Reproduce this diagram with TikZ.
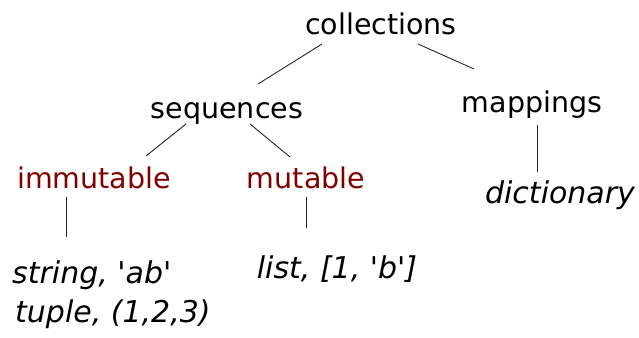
\documentclass[tikz,border=0pt]{standalone}
\usepackage{fontspec}
\setmainfont{DejaVu Sans}
\definecolor{darkred}{RGB}{128,0,0}
\newcommand{\q}{\textquotesingle}
\begin{document}
\begin{tikzpicture}[x=1pt,y=-1pt,
  lbl/.style={inner sep=0pt,anchor=base,font=\fontsize{28.5}{31}\selectfont},
  kind/.style={lbl,text=darkred},
  example/.style={lbl,font=\fontsize{30}{33}\selectfont\itshape},
  edge/.style={line width=0.9pt,black!85}]
\useasboundingbox (0,0) rectangle (639,337);

% category labels
\node[lbl]  (coll) at (381,35)  {collections};
\node[lbl]  (seq)  at (227,118) {sequences};
\node[lbl]  (map)  at (532,112) {mappings};
\node[kind] (imm)  at (94,188)  {immutable};
\node[kind] (mut)  at (306,188) {mutable};

% concrete types
\node[example] (dict) at (560,203) {dictionary};
\node[example,anchor=base west] (str) at (12,283) {string, \q ab\q};
\node[example,anchor=base west] (tup) at (15,322) {tuple, (1,2,3)};
\node[example] (lst) at (337,278) {list, [1, \q b\q]};

% connector end points
\coordinate (collL) at (322,44);
\coordinate (collR) at (418,44);
\coordinate (seqT)  at (258,84);
\coordinate (mapT)  at (474,69);
\coordinate (seqL)  at (186,124);
\coordinate (seqR)  at (250,124);
\coordinate (immT)  at (146,156);
\coordinate (mutT)  at (290,157);
\coordinate (immB)  at (66,197);
\coordinate (strT)  at (66,237);
\coordinate (mutB)  at (306,197);
\coordinate (lstT)  at (306,228);
\coordinate (mapB)  at (537,125);
\coordinate (dictT) at (537,172);

\draw[edge] (collL) -- (seqT);
\draw[edge] (collR) -- (mapT);
\draw[edge] (seqL) -- (immT);
\draw[edge] (seqR) -- (mutT);
\draw[edge] (immB) -- (strT);
\draw[edge] (mutB) -- (lstT);
\draw[edge] (mapB) -- (dictT);
\end{tikzpicture}
\end{document}
